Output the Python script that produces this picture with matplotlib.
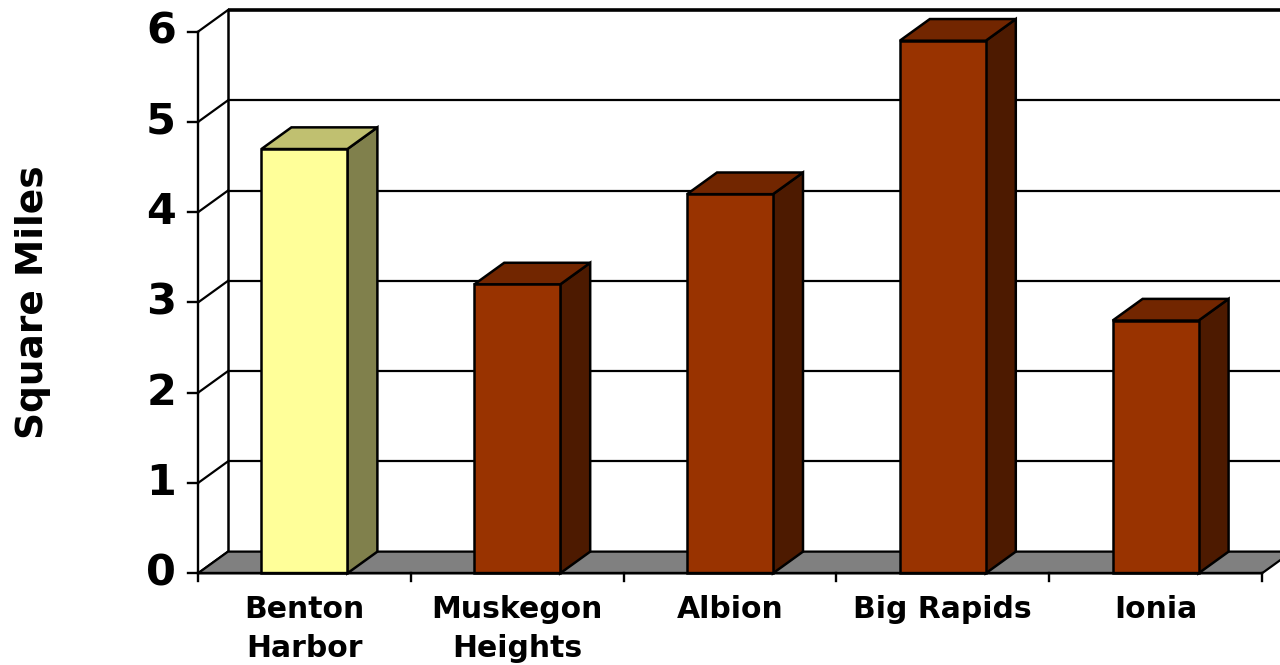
import numpy as np
import matplotlib
matplotlib.use('Agg')
import matplotlib.pyplot as plt
from matplotlib.patches import Polygon

cities = ['Benton\nHarbor', 'Muskegon\nHeights', 'Albion', 'Big Rapids', 'Ionia']
area_sq_mi = [4.7, 3.2, 4.2, 5.9, 2.8]
yticks = [0, 1, 2, 3, 4, 5, 6]

# pseudo-3d depth offset (in data units: categories across, square miles up)
DX = 0.141
DY = 0.240
HALF_W = 0.202

front_yellow, top_yellow, side_yellow = '#FFFF99', '#C0C070', '#80804C'
front_brown, top_brown, side_brown = '#993300', '#722600', '#4D1A00'
floor_gray = '#808080'

fig = plt.figure(figsize=(12.8, 6.65), dpi=100)
ax = fig.add_axes([0, 0, 1, 1])
ax.set_xlim(-198 / 212.8, (1280 - 198) / 212.8)
ax.set_ylim(-91.7 / 90.27, (665 - 91.7) / 90.27)
ax.axis('off')

n = len(cities)
xr = n + DX + 0.5

# back wall gridlines
for v in yticks:
    lw = 2.6 if v == yticks[-1] else 1.6
    ax.plot([DX, xr], [v + DY, v + DY], color='k', lw=lw, zorder=1,
            solid_capstyle='butt')
ax.plot([DX, DX], [DY, yticks[-1] + DY], color='k', lw=1.8, zorder=1)

# side wall diagonals
for v in yticks:
    ax.plot([0, DX], [v, v + DY], color='k', lw=1.6, zorder=1)

# floor
floor = Polygon([(0, 0), (n, 0), (n + DX, DY), (DX, DY)], closed=True,
                facecolor=floor_gray, edgecolor='k', lw=1.6, zorder=2)
ax.add_patch(floor)

# bars
for i, val in enumerate(area_sq_mi):
    if i == 0:
        fc, tc, sc = front_yellow, top_yellow, side_yellow
    else:
        fc, tc, sc = front_brown, top_brown, side_brown
    x0 = i + 0.5 - HALF_W
    x1 = i + 0.5 + HALF_W
    side = Polygon([(x1, 0), (x1 + DX, DY), (x1 + DX, val + DY), (x1, val)],
                   facecolor=sc, edgecolor='k', lw=1.8, zorder=3,
                   joinstyle='miter')
    top = Polygon([(x0, val), (x1, val), (x1 + DX, val + DY), (x0 + DX, val + DY)],
                  facecolor=tc, edgecolor='k', lw=1.8, zorder=3,
                  joinstyle='miter')
    front = Polygon([(x0, 0), (x1, 0), (x1, val), (x0, val)],
                    facecolor=fc, edgecolor='k', lw=1.8, zorder=4,
                    joinstyle='miter')
    for p in (side, top, front):
        ax.add_patch(p)

# value axis with ticks
ax.plot([0, 0], [0, yticks[-1]], color='k', lw=1.7, zorder=5)
for v in yticks:
    ax.plot([-0.047, 0], [v, v], color='k', lw=1.7, zorder=5)
    ax.text(-0.103, v, str(v), ha='right', va='center', fontsize=31,
            fontweight='bold', family='DejaVu Sans')

# category axis ticks and labels
ax.plot([0, n], [0, 0], color='k', lw=1.7, zorder=5)
for i in range(n + 1):
    ax.plot([i, i], [0, -0.08], color='k', lw=1.7, zorder=5)
for i, name in enumerate(cities):
    ax.text(i + 0.5, -0.245, name, ha='center', va='top', fontsize=21.5,
            fontweight='bold', family='DejaVu Sans', linespacing=1.42)

ax.text(-0.775, 3.0, 'Square Miles', rotation=90, ha='center', va='center',
        fontsize=27, fontweight='bold', family='DejaVu Sans')

fig.savefig('out.png', dpi=100)
